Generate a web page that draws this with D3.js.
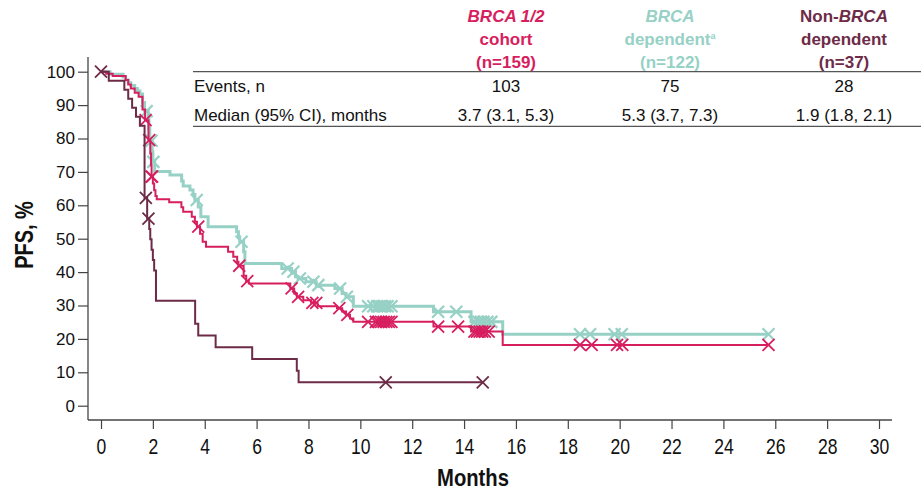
<!DOCTYPE html>
<html>
<head>
<meta charset="utf-8">
<script src="https://cdn.jsdelivr.net/npm/d3@7"></script>
<style>
  body { margin: 0; background: #fff; }
  svg { display: block; font-family: "Liberation Sans", Arial, sans-serif; }
</style>
</head>
<body>
<svg id="chart" width="921" height="493"></svg>
<script>
// ---- axis ticks ----
const monthTicks = d3.range(0, 31, 2);
const pfsTicks = d3.range(0, 101, 10);

// ---- BRCA 1/2 cohort (n=159): step times (months) and PFS after each step (%) ----
const cohortTime = [0, 0.2, 0.45, 0.95, 1.05, 1.15, 1.3, 1.45, 1.6, 1.7, 1.83, 1.9, 1.93, 1.95, 2.0, 2.05, 2.1, 2.15,
  2.63, 3.1, 3.17, 3.5, 3.62, 3.7, 3.82, 3.92, 4.05, 4.9, 5.1, 5.25, 5.3, 5.5, 5.6, 5.7,
  7.3, 7.45, 7.55, 7.8, 8.1, 8.35, 9.1, 9.3, 9.45, 9.6, 9.73, 12.82, 14.27, 15.49];
const cohortPFS = [100, 99.4, 98.7, 97.5, 96.2, 95.0, 93.7, 92.5, 88.7, 85.5, 79.5, 75.5, 72.0, 68.6, 66.5, 64.5, 62.8, 61.8,
  60.9, 59.4, 58.1, 56.6, 55.1, 53.6, 51.5, 49.1, 47.6, 46.1, 44.6, 43.1, 41.9, 38.9, 37.3, 36.6,
  35.1, 33.6, 32.6, 31.6, 30.8, 29.8, 29.2, 28.2, 27.2, 26.1, 25.1, 23.7, 22.2, 18.2];
const cohortCensor = [1.72, 1.86, 1.95, 1.97, 3.75, 5.33, 5.64, 7.35, 7.6, 8.15, 8.3, 9.19, 9.5,
  10.3, 10.6, 10.7, 10.8, 10.9, 11.0, 11.1, 11.2, 13.0, 13.77,
  14.4, 14.5, 14.6, 14.7, 14.8, 14.95, 18.47, 18.92, 19.9, 20.1, 25.74];
const cohortEnd = 25.74;

// ---- BRCA dependent (n=122) ----
const dependentTime = [0, 0.35, 0.85, 0.95, 1.05, 1.15, 1.3, 1.4, 1.5, 1.6, 1.68, 1.82, 1.85, 1.88, 1.97, 2.0, 2.07,
  2.66, 3.11, 3.17, 3.43, 3.55, 3.62, 3.75, 3.85, 4.13, 5.23, 5.3, 5.35, 5.5, 5.55,
  6.97, 7.35, 7.5, 7.6, 7.9, 8.3, 9.02, 9.3, 9.45, 9.73, 12.82, 14.27, 15.49];
const dependentPFS = [100, 99.2, 98.4, 97.5, 96.7, 95.9, 95.0, 94.2, 93.3, 90.8, 88.2, 86.5, 83.0, 79.3, 76.0, 73.0, 70.1,
  69.1, 67.3, 65.8, 64.6, 63.2, 61.6, 59.5, 56.6, 53.6, 52.1, 50.6, 49.1, 46.1, 42.6,
  41.1, 40.1, 38.6, 38.1, 37.1, 36.1, 35.1, 33.6, 32.6, 29.8, 28.1, 25.1, 21.4];
const dependentCensor = [1.76, 1.95, 2.02, 3.69, 5.42, 7.2, 7.42, 7.67, 8.19, 8.38, 9.22, 9.48,
  10.3, 10.5, 10.65, 10.75, 10.85, 10.95, 11.05, 11.2, 13.0, 13.7,
  14.4, 14.55, 14.65, 14.75, 14.9, 15.05, 18.47, 18.86, 19.8, 20.08, 25.74];
const dependentEnd = 25.74;

// ---- Non-BRCA dependent (n=37) ----
const nonDepTime = [0, 0.3, 0.9, 1.05, 1.2, 1.35, 1.5, 1.68, 1.78, 1.86, 1.9, 1.95, 2.0, 2.05, 2.12,
  3.63, 3.75, 4.42, 5.83, 7.55, 7.62];
const nonDepPFS = [100, 97.3, 94.6, 91.9, 89.2, 86.5, 83.8, 62.2, 56.0, 52.9, 49.8, 46.7, 43.6, 40.5, 31.4,
  24.5, 21.0, 17.5, 14.0, 10.5, 7.0];
const nonDepCensor = [0, 1.73, 1.83, 10.98, 14.72];
const nonDepEnd = 14.72;

// ---- summary table ----
const eventsRow = ["103", "75", "28"];
const medianRow = ["3.7 (3.1, 5.3)", "5.3 (3.7, 7.3)", "1.9 (1.8, 2.1)"];
const rowLabels = ["Events, n", "Median (95% CI), months"];

const colors = { cohort: "#d71e5e", dependent: "#97d1c6", nonDep: "#6d2b48" };

const series = [
  { key: "dependent", time: dependentTime, pfs: dependentPFS, censor: dependentCensor, end: dependentEnd, width: 3 },
  { key: "cohort", time: cohortTime, pfs: cohortPFS, censor: cohortCensor, end: cohortEnd, width: 2 },
  { key: "nonDep", time: nonDepTime, pfs: nonDepPFS, censor: nonDepCensor, end: nonDepEnd, width: 2 }
];

const svg = d3.select("#chart");
const x = d3.scaleLinear().domain([0, 30]).range([101, 879]);
const y = d3.scaleLinear().domain([0, 100]).range([405.7, 71.7]);
const axisColor = "#444";
const axisY0 = 420;

// x axis
const gx = svg.append("g").attr("transform", `translate(0,${axisY0})`)
  .call(d3.axisBottom(x).tickValues(monthTicks).tickSize(9).tickSizeOuter(0));
gx.select(".domain").remove();
gx.selectAll(".tick line").attr("stroke", axisColor).attr("stroke-width", 1.2);
gx.selectAll(".tick text")
  .attr("y", 0).attr("dy", 0)
  .attr("transform", "translate(0,34) scale(0.78,1)")
  .attr("fill", "#111").attr("font-size", 22.5)
  .attr("font-family", "'Liberation Sans', Arial, sans-serif");
gx.append("line").attr("x1", x(-0.5)).attr("x2", x(30.5)).attr("y1", 0).attr("y2", 0)
  .attr("stroke", axisColor).attr("stroke-width", 1.3);

// y axis
const gy = svg.append("g").attr("transform", "translate(88,0)")
  .call(d3.axisLeft(y).tickValues(pfsTicks).tickSize(10).tickPadding(3).tickSizeOuter(0));
gy.select(".domain").remove();
gy.selectAll(".tick line").attr("stroke", axisColor).attr("stroke-width", 1.2);
gy.selectAll(".tick text").attr("fill", "#111").attr("font-size", 17)
  .attr("font-family", "'Liberation Sans', Arial, sans-serif");
gy.append("line").attr("x1", 0).attr("x2", 0).attr("y1", 57).attr("y2", axisY0)
  .attr("stroke", axisColor).attr("stroke-width", 1.3);

// axis titles
svg.append("text").attr("transform", "translate(473,486) scale(0.88,1)")
  .attr("text-anchor", "middle").attr("font-weight", "bold").attr("font-size", 23).attr("fill", "#111")
  .text("Months");
svg.append("text").attr("transform", "translate(33,235) rotate(-90) scale(0.8,1)")
  .attr("text-anchor", "middle").attr("font-weight", "bold").attr("font-size", 25).attr("fill", "#111")
  .text("PFS, %");

// Kaplan–Meier step curves with censor crosses
const stepLine = d3.line().x(d => x(d[0])).y(d => y(d[1])).curve(d3.curveStepAfter);
const valueAt = (s, t) => {
  const i = d3.bisectRight(s.time, t) - 1;
  return s.pfs[Math.max(0, i)];
};
const cross = "M-6,-6L6,6M-6,6L6,-6";

series.forEach(s => {
  const pts = s.time.map((t, i) => [t, s.pfs[i]]);
  pts.push([s.end, s.pfs[s.pfs.length - 1]]);
  const g = svg.append("g");
  g.append("path").attr("d", stepLine(pts)).attr("fill", "none")
    .attr("stroke", colors[s.key]).attr("stroke-width", s.width);
  g.selectAll("path.c").data(s.censor).join("path").attr("class", "c")
    .attr("transform", t => `translate(${x(t)},${y(valueAt(s, t))})`)
    .attr("d", cross).attr("fill", "none")
    .attr("stroke", colors[s.key]).attr("stroke-width", s.key === "dependent" ? 2.2 : 1.8);
});

// summary table
const colX = [506, 670, 844];
const headerColors = [colors.cohort, colors.dependent, colors.nonDep];
const headerLines = [
  [[["BRCA 1/2", true]], [["cohort", false]], [["(n=159)", false]]],
  [[["BRCA", true]], [["dependent", false], ["a", false, true]], [["(n=122)", false]]],
  [[["Non-", false], ["BRCA", true]], [["dependent", false]], [["(n=37)", false]]]
];
const headerBase = [21.5, 44.5, 67.5];
headerLines.forEach((lines, c) => {
  lines.forEach((segs, r) => {
    const t = svg.append("text").attr("x", colX[c]).attr("y", headerBase[r])
      .attr("text-anchor", "middle").attr("font-weight", "bold").attr("font-size", 17)
      .attr("fill", headerColors[c]);
    segs.forEach(([str, italic, sup]) => {
      const sp = t.append("tspan").text(str).attr("font-style", italic ? "italic" : "normal");
      if (sup) sp.attr("font-size", 9).attr("dy", -6);
    });
  });
});

svg.append("line").attr("x1", 193).attr("x2", 921).attr("y1", 71.7).attr("y2", 71.7)
  .attr("stroke", "#555").attr("stroke-width", 1.3);
svg.append("line").attr("x1", 193).attr("x2", 921).attr("y1", 126.3).attr("y2", 126.3)
  .attr("stroke", "#555").attr("stroke-width", 1.3);

const rowBase = [92, 120.5];
rowLabels.forEach((lab, r) => {
  svg.append("text").attr("x", 194).attr("y", rowBase[r]).attr("font-size", 17).attr("fill", "#111").text(lab);
});
[eventsRow, medianRow].forEach((row, r) => {
  row.forEach((v, c) => {
    svg.append("text").attr("x", colX[c]).attr("y", rowBase[r]).attr("text-anchor", "middle")
      .attr("font-size", 17).attr("fill", "#111").text(v);
  });
});
</script>
</body>
</html>
